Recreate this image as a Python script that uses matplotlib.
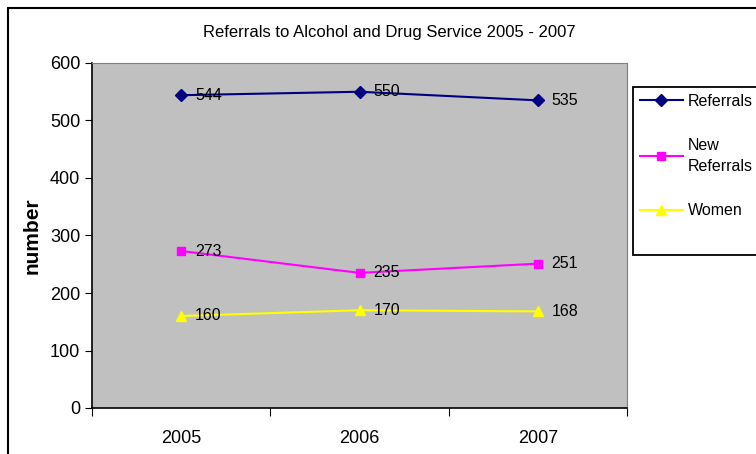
import matplotlib.pyplot as plt
from matplotlib.patches import Rectangle

plt.rcParams['font.family'] = ['Liberation Sans', 'DejaVu Sans']

# data
years = ['2005', '2006', '2007']
referrals = [544, 550, 535]
new_referrals = [273, 235, 251]
women = [160, 170, 168]

fig = plt.figure(figsize=(7.56, 4.54), dpi=100)

# outer chart frame (runs off right and bottom edge)
fig.patches.append(Rectangle((8 / 756, -0.2), 1.2, 1.2 - 8 / 454, transform=fig.transFigure,
                             fill=False, edgecolor='black', linewidth=1.5))

ax = fig.add_axes([92 / 756, 46 / 454, 535 / 756, 345 / 454])
ax.set_facecolor('#c0c0c0')

x = list(range(len(years)))
ax.plot(x, referrals, color='#000080', marker='D', markersize=6, linewidth=1.5, label='Referrals')
ax.plot(x, new_referrals, color='#ff00ff', marker='s', markersize=6, linewidth=1.5, label='New\nReferrals')
ax.plot(x, women, color='#ffff00', marker='^', markersize=7, linewidth=1.5, label='Women')

for series in [referrals, new_referrals, women]:
    for i, v in enumerate(series):
        ax.annotate(str(v), (i, v), xytext=(10, 0), textcoords='offset points',
                    va='center', ha='left', fontsize=11.5)

ax.set_xlim(-0.5, 2.5)
ax.set_ylim(0, 600)
ax.set_yticks(range(0, 601, 100))
ax.set_xticks([-0.5, 0.5, 1.5, 2.5])
ax.set_xticklabels([])
ax.set_xticks(x, minor=True)
ax.set_xticklabels(years, minor=True, fontsize=13)
ax.tick_params(axis='x', which='minor', length=0, pad=16)
ax.tick_params(axis='x', which='major', direction='out', length=6)
ax.tick_params(axis='y', direction='out', length=5, labelsize=13)

for s in ['top', 'right']:
    ax.spines[s].set_color('#808080')
for s in ['left', 'bottom']:
    ax.spines[s].set_linewidth(1.2)

ax.set_ylabel('number', fontsize=15, fontweight='bold', labelpad=6)
fig.text(389 / 756, 1 - 33 / 454, 'Referrals to Alcohol and Drug Service 2005 - 2007',
         ha='center', va='center', fontsize=12)

# legend box drawn by hand so its size matches
fig.patches.append(Rectangle((633 / 756, 1 - 255 / 454), 0.2, 168 / 454, transform=fig.transFigure,
                             fill=True, facecolor='white', edgecolor='black', linewidth=1.3, zorder=2))
leg = fig.legend(loc='upper left', bbox_to_anchor=(633 / 756, 1 - 87 / 454), borderaxespad=0,
                 frameon=False, fontsize=11.5, handlelength=2.7, handletextpad=0.3,
                 labelspacing=1.85, borderpad=0.42)
leg.set_zorder(3)
leg.get_texts()[1].set_linespacing(1.45)

fig.savefig('out.png', dpi=100)
